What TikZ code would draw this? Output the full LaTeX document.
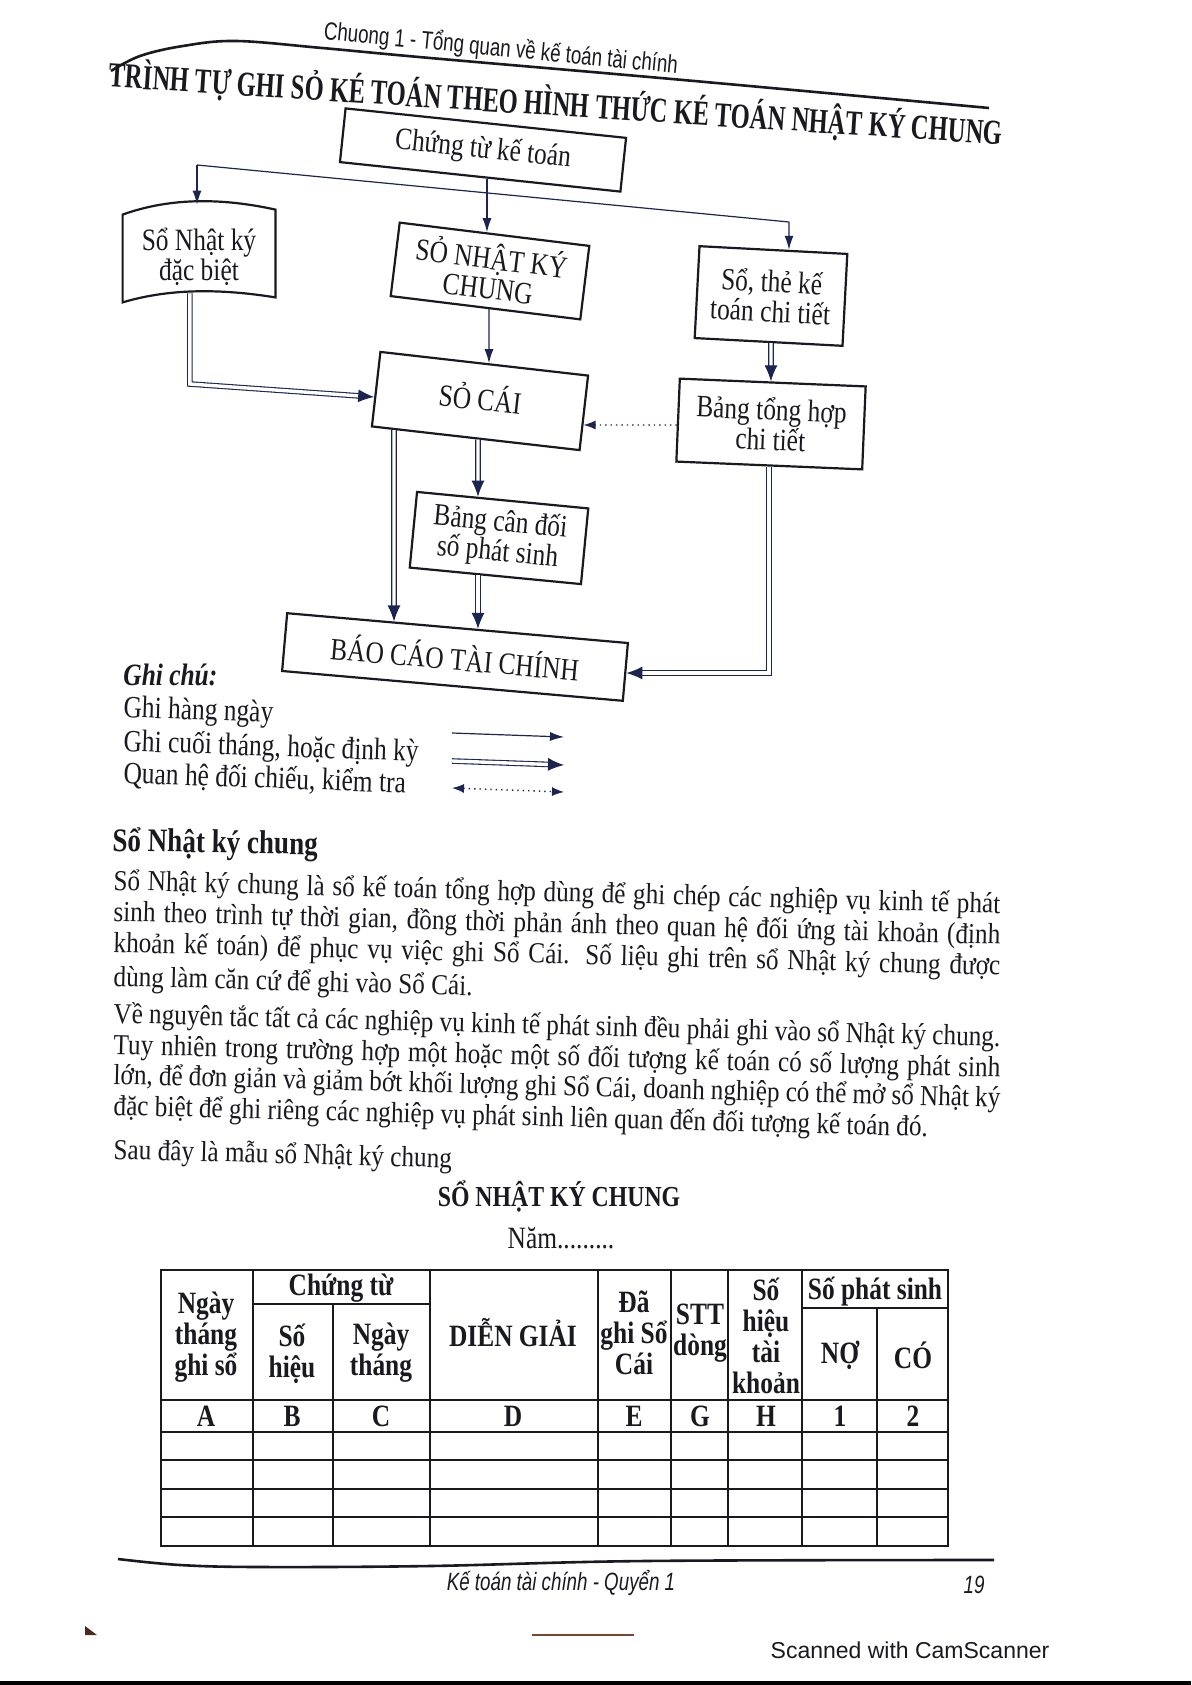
\documentclass[tikz,border=0pt]{standalone}
\usepackage{fontspec}
\setmainfont{Liberation Serif}
\newfontfamily\cf{Liberation Serif}[FakeStretch=0.82]
\newfontfamily\bodyf{Liberation Serif}[FakeStretch=0.87]
\newfontfamily\tfam{Liberation Serif}[FakeStretch=0.70]
\newfontfamily\hfam{Liberation Sans}[FakeStretch=0.75]
\newfontfamily\camfam{Liberation Sans}
\newcommand\fsz[2]{\fontsize{#1}{#2}\selectfont}
\usetikzlibrary{arrows.meta,calc}
\definecolor{ink}{RGB}{25,25,32}
\definecolor{arrc}{RGB}{28,36,80}
\definecolor{brownish}{RGB}{120,70,50}
\begin{document}
\begin{tikzpicture}[x=0.5pt,y=-0.5pt,
  box/.style={draw=ink,line width=1.1pt,inner sep=0pt,align=center,text=ink,font=\cf\fsz{15.5pt}{15pt}},
  sarr/.style={draw=arrc,line width=0.6pt,-{Latex[length=7pt,width=4.5pt]}},
  darr/.style={draw=arrc,line width=0.55pt,double=white,double distance=1.7pt,-{Latex[length=8pt,width=6.5pt]}},
  dotarr/.style={draw=arrc,line width=0.7pt,dotted,-{Latex[length=6pt,width=4.5pt]}},
  txt/.style={anchor=base west,inner sep=0pt,text=ink,font=\cf\fsz{15.5pt}{18pt}},
  bodyline/.style={anchor=base west,inner sep=0pt,text=ink,font=\bodyf\fsz{14.5pt}{16pt},rotate=-1.5},
  th/.style={inner sep=0pt,align=center,text=ink,font=\cf\bfseries\fsz{15.5pt}{15.5pt}},
  rule/.style={draw=ink,line width=1.1pt,line cap=rect},
]
\useasboundingbox (0,0) rectangle (1191,1685);
\fill[white] (0,0) rectangle (1191,1685);

% page header
\draw[ink,line width=1.3pt] plot[smooth,tension=0.6] coordinates {(111,71) (140,56) (183,46) (236,41) (322,48) (430,58) (683,80) (989,108)};
\node[inner sep=0pt,rotate=-5.5,text=ink,font=\hfam\fsz{12.5pt}{14pt}] (hdr) at (501,49) {Chuong 1 - Tổng quan về kế toán tài chính};
\node[inner sep=0pt,rotate=-3.7,text=ink,font=\tfam\bfseries\fsz{17.5pt}{20pt}] (title) at (556,104) {TRÌNH TỰ GHI SỎ KÉ TOÁN THEO HÌNH THỨC KÉ TOÁN NHẬT KÝ CHUNG};

% boxes
\node[box,rotate=-6,minimum width=141pt,minimum height=27pt] (ct) at (483,150) {Chứng từ kế toán};
\node[inner sep=0pt,align=center,text=ink,font=\cf\fsz{15.5pt}{15pt},minimum width=76pt,minimum height=44pt] (nkdb) at (199,257) {Sổ Nhật ký\\đặc biệt};
\draw[ink,line width=1.1pt] ($(nkdb.north west)+(0,2)$) .. controls ($(nkdb.north west)+(50,-16)$) and ($(nkdb.north east)+(-50,-14)$) .. ($(nkdb.north east)+(0,-3)$)
  -- ($(nkdb.south east)+(0,-4)$) .. controls ($(nkdb.south east)+(-50,-12)$) and ($(nkdb.south west)+(50,-14)$) .. ($(nkdb.south west)+(0,1)$) -- cycle;
\node[box,rotate=-7,minimum width=95.5pt,minimum height=37pt] (nkc) at (490,271) {SỎ NHẬT KÝ\\CHUNG};
\node[box,rotate=-3,minimum width=74pt,minimum height=46pt] (stct) at (771,296) {Sổ, thẻ kế\\toán chi tiết};
\node[box,rotate=-6.5,minimum width=104.5pt,minimum height=37.5pt] (sc) at (480,401) {\raisebox{4pt}{SỎ CÁI}};
\node[box,rotate=-2.4,minimum width=93pt,minimum height=41.5pt] (bthct) at (771,424) {Bảng tổng hợp\\chi tiết};
\node[box,rotate=-5.5,minimum width=86pt,minimum height=38pt] (bcd) at (499,538) {Bảng cân đối\\số phát sinh};
\node[box,rotate=-5,minimum width=171pt,minimum height=29pt] (bctc) at (455,657) {BÁO CÁO TÀI CHÍNH};

% connectors
\coordinate (brL) at (197,165);
\coordinate (brR) at (789,222);
\draw[sarr] (intersection of ct.south west--ct.south east and 487,0--487,100) -- (intersection of nkc.north west--nkc.north east and 487,0--487,100);
\draw[draw=arrc,line width=0.6pt] (brL) -- (brR);
\draw[sarr] (brL) -- ($(brL |- nkdb.north)+(0,-8)$);
\draw[sarr] (brR) -- (intersection of stct.north west--stct.north east and 789,0--789,100);
\draw[sarr] (intersection of nkc.south west--nkc.south east and 489,0--489,100) -- (intersection of sc.north west--sc.north east and 489,0--489,100);
\draw[darr] ($(nkdb.south west)!0.44!(nkdb.south east)+(0,-8)$) coordinate (d0) -- (d0 |- 0,384) -- (intersection of sc.north west--sc.south west and 0,397--100,397);
\draw[darr] (intersection of stct.south west--stct.south east and 771,0--771,100) -- (intersection of bthct.north west--bthct.north east and 771,0--771,100);
\draw[dotarr] (intersection of bthct.north west--bthct.south west and 0,425--100,425) -- (intersection of sc.north east--sc.south east and 0,425--100,425);
\draw[darr] (intersection of sc.south west--sc.south east and 478,0--478,100) -- (intersection of bcd.north west--bcd.north east and 478,0--478,100);
\draw[darr] (intersection of bcd.south west--bcd.south east and 478,0--478,100) -- (intersection of bctc.north west--bctc.north east and 478,0--478,100);
\draw[darr] (intersection of sc.south west--sc.south east and 394,0--394,100) -- (intersection of bctc.north west--bctc.north east and 394,0--394,100);
\draw[darr] (intersection of bthct.south west--bthct.south east and 769,0--769,100) coordinate (b0) -- (b0 |- 0,673) -- (intersection of bctc.north east--bctc.south east and 0,673--100,673);

% legend
\node[txt,font=\cf\bfseries\itshape\fsz{15.5pt}{18pt}] (gc) at (123,685) {Ghi chú:};
\node[txt,rotate=-2] (g1) at (123,717) {Ghi hàng ngày};
\node[txt,rotate=-2] (g2) at (123,751) {Ghi cuối tháng, hoặc định kỳ};
\node[txt,rotate=-2] (g3) at (123,783) {Quan hệ đối chiếu, kiểm tra};
\coordinate (l1a) at (452,733); \coordinate (l1b) at (564,737);
\coordinate (l2a) at (452,761); \coordinate (l2b) at (564,765);
\coordinate (l3a) at (452,788); \coordinate (l3b) at (564,792);
\draw[sarr] (l1a) -- (l1b);
\draw[darr] (l2a) -- (l2b);
\draw[dotarr,{Latex[length=6pt,width=4.5pt]}-{Latex[length=6pt,width=4.5pt]}] (l3a) -- (l3b);

% body text
\node[anchor=base west,inner sep=0pt,text=ink,rotate=-1,font=\cf\bfseries\fsz{16.5pt}{18pt}] (h1) at (112,851) {Sổ Nhật ký chung};
\node[bodyline] (p1) at (113,890) {\makebox[443.5pt][s]{Sổ Nhật ký chung là sổ kế toán tổng hợp dùng để ghi chép các nghiệp vụ kinh tế phát}};
\node[bodyline] (p2) at (113,921) {\makebox[443.5pt][s]{sinh theo trình tự thời gian, đồng thời phản ánh theo quan hệ đối ứng tài khoản (định}};
\node[bodyline] (p3) at (113,952) {\makebox[443.5pt][s]{khoản kế toán) để phục vụ việc ghi Sổ Cái. Số liệu ghi trên sổ Nhật ký chung được}};
\node[bodyline] (p4) at (113,986) {dùng làm căn cứ để ghi vào Sổ Cái.};
\node[bodyline] (p5) at (113,1023) {\makebox[443.5pt][s]{Về nguyên tắc tất cả các nghiệp vụ kinh tế phát sinh đều phải ghi vào sổ Nhật ký chung.}};
\node[bodyline] (p6) at (113,1054) {\makebox[443.5pt][s]{Tuy nhiên trong trường hợp một hoặc một số đối tượng kế toán có số lượng phát sinh}};
\node[bodyline] (p7) at (113,1084) {\makebox[443.5pt][s]{lớn, để đơn giản và giảm bớt khối lượng ghi Sổ Cái, doanh nghiệp có thể mở sổ Nhật ký}};
\node[bodyline] (p8) at (113,1115) {đặc biệt để ghi riêng các nghiệp vụ phát sinh liên quan đến đối tượng kế toán đó.};
\node[bodyline] (p9) at (113,1159) {Sau đây là mẫu sổ Nhật ký chung};
\node[inner sep=0pt,anchor=base,text=ink,font=\cf\bfseries\fsz{14.5pt}{16pt}] (tt) at (559,1206) {SỔ NHẬT KÝ CHUNG};
\node[inner sep=0pt,anchor=base,text=ink,font=\cf\fsz{15.5pt}{16pt}] (nam) at (561,1248) {Năm.........};

% table
\foreach \y in {1270,1400,1432,1460,1489,1517,1546} \draw[rule] (161,\y) -- (948,\y);
\draw[rule] (253,1304) -- (430,1304);
\draw[rule] (802,1308) -- (948,1308);
\foreach \x in {161,253,430,598,671,728,802,948} \draw[rule] (\x,1270) -- (\x,1546);
\draw[rule] (333,1304) -- (333,1546);
\draw[rule] (877,1308) -- (877,1546);
\node[th] (c1) at (206,1337) {Ngày\\tháng\\ghi sổ};
\node[th] (c2) at (341,1288) {Chứng từ};
\node[th] (c2a) at (292,1354) {Số\\hiệu};
\node[th] (c2b) at (381,1353) {Ngày\\tháng};
\node[th] (c3) at (513,1333) {DIỄN GIẢI};
\node[th] (c4) at (634,1333) {Đã\\ghi Sổ\\Cái};
\node[th] (c5) at (700,1333) {STT\\dòng};
\node[th] (c6) at (766,1336) {Số\\hiệu\\tài\\khoản};
\node[th] (c7) at (875,1292) {Số phát sinh};
\node[th] (c7a) at (840,1355) {NỢ};
\node[th] (c7b) at (913,1355) {CÓ};
\foreach \lx/\lt/\nm in {206/A/la,292/B/lb,381/C/lc,513/D/ld,634/E/le,700/G/lg,766/H/lh,840/1/l1,913/2/l2}
  \node[th] (\nm) at (\lx,1416) {\lt};

% footer
\draw[ink,line width=1.3pt] plot[smooth,tension=0.6] coordinates {(118,1559) (180,1565) (260,1567) (430,1566) (645,1561) (994,1560)};
\node[inner sep=0pt,text=ink,font=\hfam\itshape\fsz{12.5pt}{14pt}] (ft) at (561,1583) {Kế toán tài chính - Quyển 1};
\node[inner sep=0pt,text=ink,font=\hfam\itshape\fsz{12.5pt}{14pt}] (pg) at (974,1585) {19};
\draw[brownish,line width=1.2pt] (532,1635) -- (634,1635);
\fill[brownish!60!black] (85,1626) -- (97,1635) -- (85,1635) -- cycle;
\node[inner sep=0pt,text=ink,font=\camfam\fsz{11.5pt}{13pt}] (cam) at (910,1650) {Scanned with CamScanner};
\fill[black] (0,1681) rectangle (1191,1685);
\end{tikzpicture}
\end{document}
